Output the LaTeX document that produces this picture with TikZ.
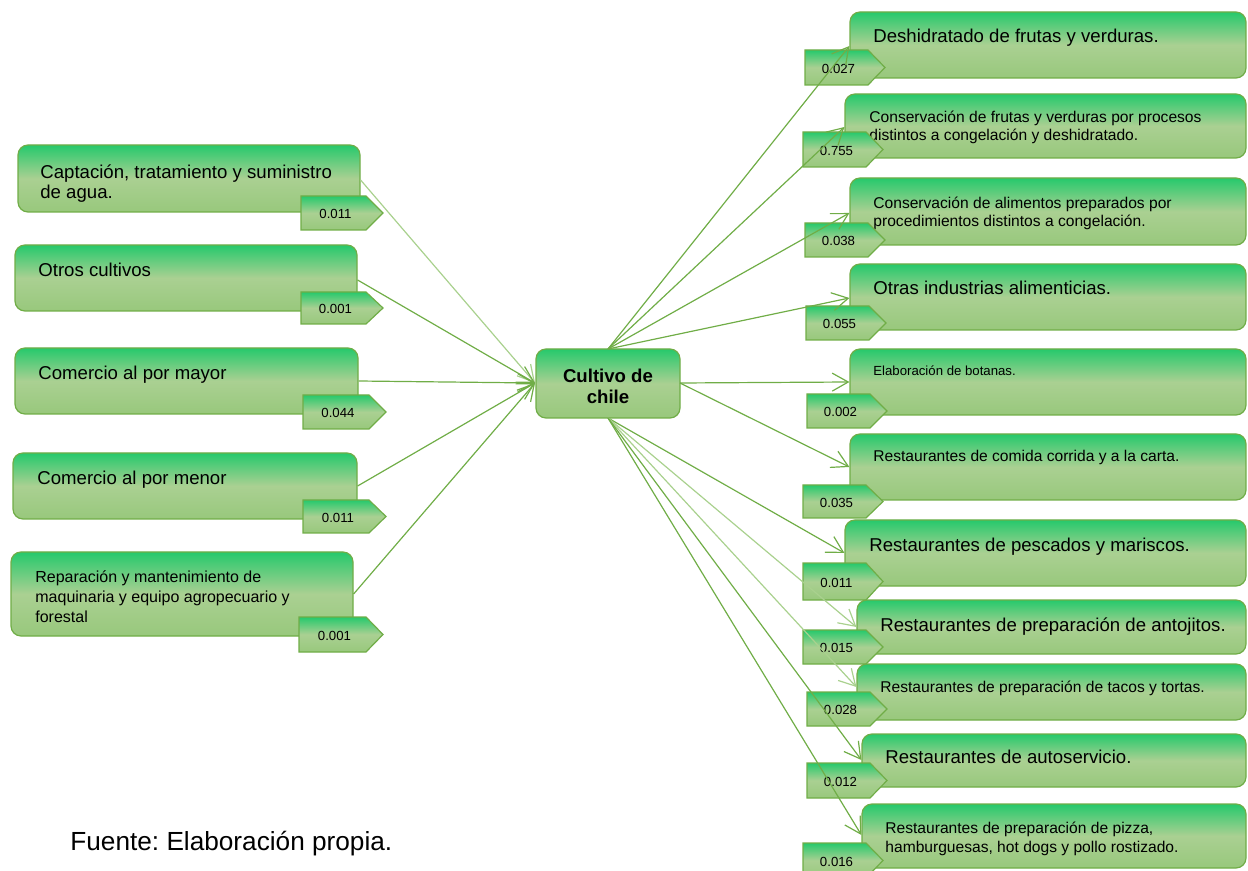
\documentclass[tikz,border=0pt]{standalone}
\usepackage{fontspec}
\setmainfont{Liberation Sans}
\frenchspacing
\usetikzlibrary{arrows.meta,fit}
\definecolor{bord}{RGB}{112,173,71}
\definecolor{gtop}{RGB}{38,201,108}
\definecolor{gmid}{RGB}{170,208,146}
\definecolor{gbot}{RGB}{152,200,124}
\definecolor{lightln}{RGB}{169,209,142}
\newcommand\fbig{\fontsize{9.3}{10.4}\selectfont}
\newcommand\fmed{\fontsize{7.8}{9.4}\selectfont}
\newcommand\fsml{\fontsize{6.6}{8}\selectfont}
\newcommand\frep{\fontsize{8}{9.8}\selectfont}
\newcommand\flab{\fontsize{6.6}{8}\selectfont}
\newcommand\valtag[6]{%
  \path[tagshape] (#2,#3) -- ({#4-17},#3) -- (#4,{(#3+#5)/2}) -- ({#4-17},#5) -- (#2,#5) -- cycle;
  \node[tagtext] (#1) at ({(#2+#4-17)/2+2},{(#3+#5)/2+1}) {#6};}
\tikzset{
  box/.style={draw=bord, line width=0.6pt, rounded corners=5pt, inner sep=0pt,
    top color=gtop, bottom color=gbot, middle color=gmid},
  tagshape/.style={draw=bord, line width=0.6pt, top color=gtop, bottom color=gbot, middle color=gmid},
  tagtext/.style={font=\flab, inner sep=0pt},
  btext/.style={anchor=base west, align=left, inner sep=0pt},
  conn/.style={draw=bord, line width=0.6pt, -{Straight Barb[length=8pt,width=9pt]}},
  connl/.style={conn, draw=lightln},
}
\begin{document}
\begin{tikzpicture}[x=0.5pt,y=-0.5pt]
\useasboundingbox (0,0) rectangle (1248,871);

% left boxes
\node[box, fit={(18,145) (360,212)}] (L1) {};
\node[btext, font=\fbig] (tL1) at (40,199) {Captación, tratamiento y suministro\\de agua.};
\valtag{vL1}{301}{196}{383}{230}{0.011}

\node[box, fit={(15,245) (357,311)}] (L2) {};
\node[btext, font=\fbig] (tL2) at (38,277) {Otros cultivos};
\valtag{vL2}{301}{292}{383}{324}{0.001}

\node[box, fit={(15,348) (358,414)}] (L3) {};
\node[btext, font=\fbig] (tL3) at (38,380) {Comercio al por mayor};
\valtag{vL3}{303}{395}{386}{429}{0.044}

\node[box, fit={(13,453) (357,519)}] (L4) {};
\node[btext, font=\fbig] (tL4) at (37,485) {Comercio al por menor};
\valtag{vL4}{303}{500}{386}{533}{0.011}

\node[box, fit={(11,552) (353,636)}] (L5) {};
\node[btext, font=\frep] (tL5) at (35,622) {Reparación y mantenimiento de\\maquinaria y equipo agropecuario y\\forestal};
\valtag{vL5}{299}{617}{383}{652}{0.001}

% center
\node[box, fit={(536,349) (680,418)}] (C) {};
\node[font=\bfseries\fbig, align=center, inner sep=0pt] (tC) at (608,386) {Cultivo de\\chile};
\coordinate (Cin) at (535,383);
\coordinate (Ctop) at (608,349);
\coordinate (Cbot) at (608,418);
\coordinate (Crt) at (680,383);

% right boxes
\node[box, fit={(850,12) (1246,78)}] (R1) {};
\node[btext, font=\fbig] (tR1) at (873,43) {Deshidratado de frutas y verduras.};
\valtag{vR1}{805}{50}{885}{85}{0.027}

\node[box, fit={(845,94) (1246,158)}] (R2) {};
\node[btext, font=\fmed] (tR2) at (869,141) {Conservación de frutas y verduras por procesos\\distintos a congelación y deshidratado.};
\valtag{vR2}{803}{132}{883}{167}{0.755}

\node[box, fit={(850,178) (1246,245)}] (R3) {};
\node[btext, font=\fmed] (tR3) at (873,227) {Conservación de alimentos preparados por\\procedimientos distintos a congelación.};
\valtag{vR3}{805}{223}{885}{257}{0.038}

\node[box, fit={(850,264) (1246,330)}] (R4) {};
\node[btext, font=\fbig] (tR4) at (873,295) {Otras industrias alimenticias.};
\valtag{vR4}{806}{306}{886}{340}{0.055}

\node[box, fit={(850,349) (1246,415)}] (R5) {};
\node[btext, font=\fsml] (tR5) at (873,376) {Elaboración de botanas.};
\valtag{vR5}{807}{394}{887}{428}{0.002}

\node[box, fit={(850,434) (1246,500)}] (R6) {};
\node[btext, font=\fmed] (tR6) at (873,462) {Restaurantes de comida corrida y a la carta.};
\valtag{vR6}{803}{485}{883}{518}{0.035}

\node[box, fit={(845,520) (1246,586)}] (R7) {};
\node[btext, font=\fbig] (tR7) at (869,552) {Restaurantes de pescados y mariscos.};
\valtag{vR7}{803}{563}{883}{600}{0.011}

\node[box, fit={(857,600) (1246,654)}] (R8) {};
\node[btext, font=\fbig] (tR8) at (880,632) {Restaurantes de preparación de antojitos.};
\valtag{vR8}{803}{630}{883}{664}{0.015}

\node[box, fit={(857,664) (1246,720)}] (R9) {};
\node[btext, font=\fmed] (tR9) at (880,692) {Restaurantes de preparación de tacos y tortas.};
\valtag{vR9}{807}{692}{887}{726}{0.028}

\node[box, fit={(862,734) (1246,787)}] (R10) {};
\node[btext, font=\fbig] (tR10) at (885,763) {Restaurantes de autoservicio.};
\valtag{vR10}{807}{763}{887}{798}{0.012}

\node[box, fit={(862,804) (1246,868)}] (R11) {};
\node[btext, font=\fmed] (tR11) at (885,852) {Restaurantes de preparación de pizza,\\hamburguesas, hot dogs y pollo rostizado.};
\valtag{vR11}{803}{843}{883}{878}{0.016}

% source
\node[anchor=base west, inner sep=0pt, font=\fontsize{13.1}{15}\selectfont] (src) at (70,850) {Fuente: Elaboración propia.};

% connectors left
\draw[connl] (L1.east |- 0,180) -- (Cin);
\draw[conn] (L2.east |- 0,280) -- (Cin);
\draw[conn] (L3.east |- 0,381) -- (Cin);
\draw[conn] (L4.east |- 0,486) -- (Cin);
\draw[conn] (L5.east |- 0,594) -- (Cin);

% connectors right
\draw[conn] (Ctop) -- (R1.west |- 0,46);
\draw[conn] (Ctop) -- (R2.west |- 0,127);
\draw[conn] (Ctop) -- (R3.west |- 0,213);
\draw[conn] (Ctop) -- (R4.west |- 0,298);
\draw[conn] (Crt) -- (R5.west |- 0,382);
\draw[conn] (Crt) -- (R6.west |- 0,467);
\draw[conn] (Cbot) -- (R7.west |- 0,553);
\draw[connl] (Cbot) -- (R8.west |- 0,627);
\draw[connl] (Cbot) -- (R9.west |- 0,687);
\draw[conn] (Cbot) -- (R10.west |- 0,760);
\draw[conn] (Cbot) -- (R11.west |- 0,835);
\end{tikzpicture}
\end{document}
